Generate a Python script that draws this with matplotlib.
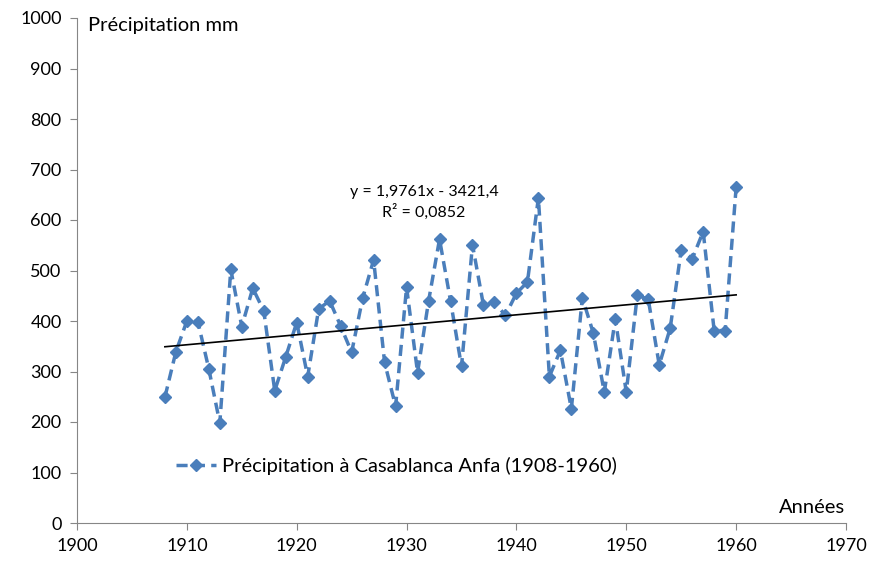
import matplotlib.pyplot as plt

plt.rcParams['font.family'] = ['Lato', 'DejaVu Sans']

years = list(range(1908, 1961))
rain = [249, 339, 400, 399, 305, 198, 502, 389, 465, 420,
        262, 329, 397, 290, 424, 440, 390, 338, 445, 521,
        318, 231, 467, 298, 439, 562, 440, 310, 551, 431,
        437, 411, 455, 477, 644, 290, 342, 226, 446, 376,
        259, 404, 259, 451, 443, 313, 386, 541, 523, 577,
        381, 381, 665]

# trend line coefficients as printed on the chart
slope = 1.9761
intercept = -3421.4
r2 = 0.0852

x_ticks = list(range(1900, 1971, 10))
y_ticks = list(range(0, 1001, 100))

fig = plt.figure(figsize=(8.72, 5.65), dpi=100)
ax = fig.add_axes([77 / 872, 42 / 565, 769 / 872, 505 / 565])

ax.plot(years, rain, color='#4A7EBB', linestyle=(0, (3.2, 1.8)), linewidth=2.5,
        marker='D', markersize=6, label='Précipitation à Casablanca Anfa (1908-1960)')

trend_x = [years[0], years[-1]]
trend_y = [slope * v + intercept for v in trend_x]
ax.plot(trend_x, trend_y, color='black', linewidth=1.2)

eq = f'y = {slope:.4f}x - {abs(intercept):.1f}'.replace('.', ',')
ax.text(1931.6, 635, eq + '\nR² = ' + f'{r2:.4f}'.replace('.', ','),
        ha='center', va='center', fontsize=11.5, linespacing=1.4)

ax.set_xlim(1900, 1970)
ax.set_ylim(0, 1000)
ax.set_xticks(x_ticks)
ax.set_yticks(y_ticks)
ax.tick_params(axis='both', labelsize=13, color='#868686', length=5, pad=6)

for side in ['top', 'right']:
    ax.spines[side].set_visible(False)
for side in ['left', 'bottom']:
    ax.spines[side].set_color('#868686')

ax.text(1901, 985, 'Précipitation mm', fontsize=14.5, va='center')
ax.text(1969.9, 30, 'Années', fontsize=14.5, ha='right', va='center')

ax.legend(loc='lower left', bbox_to_anchor=(0.105, 0.06), frameon=False,
          fontsize=14.5, handlelength=2.0, handletextpad=0.3)

fig.savefig('out.png', dpi=100)
